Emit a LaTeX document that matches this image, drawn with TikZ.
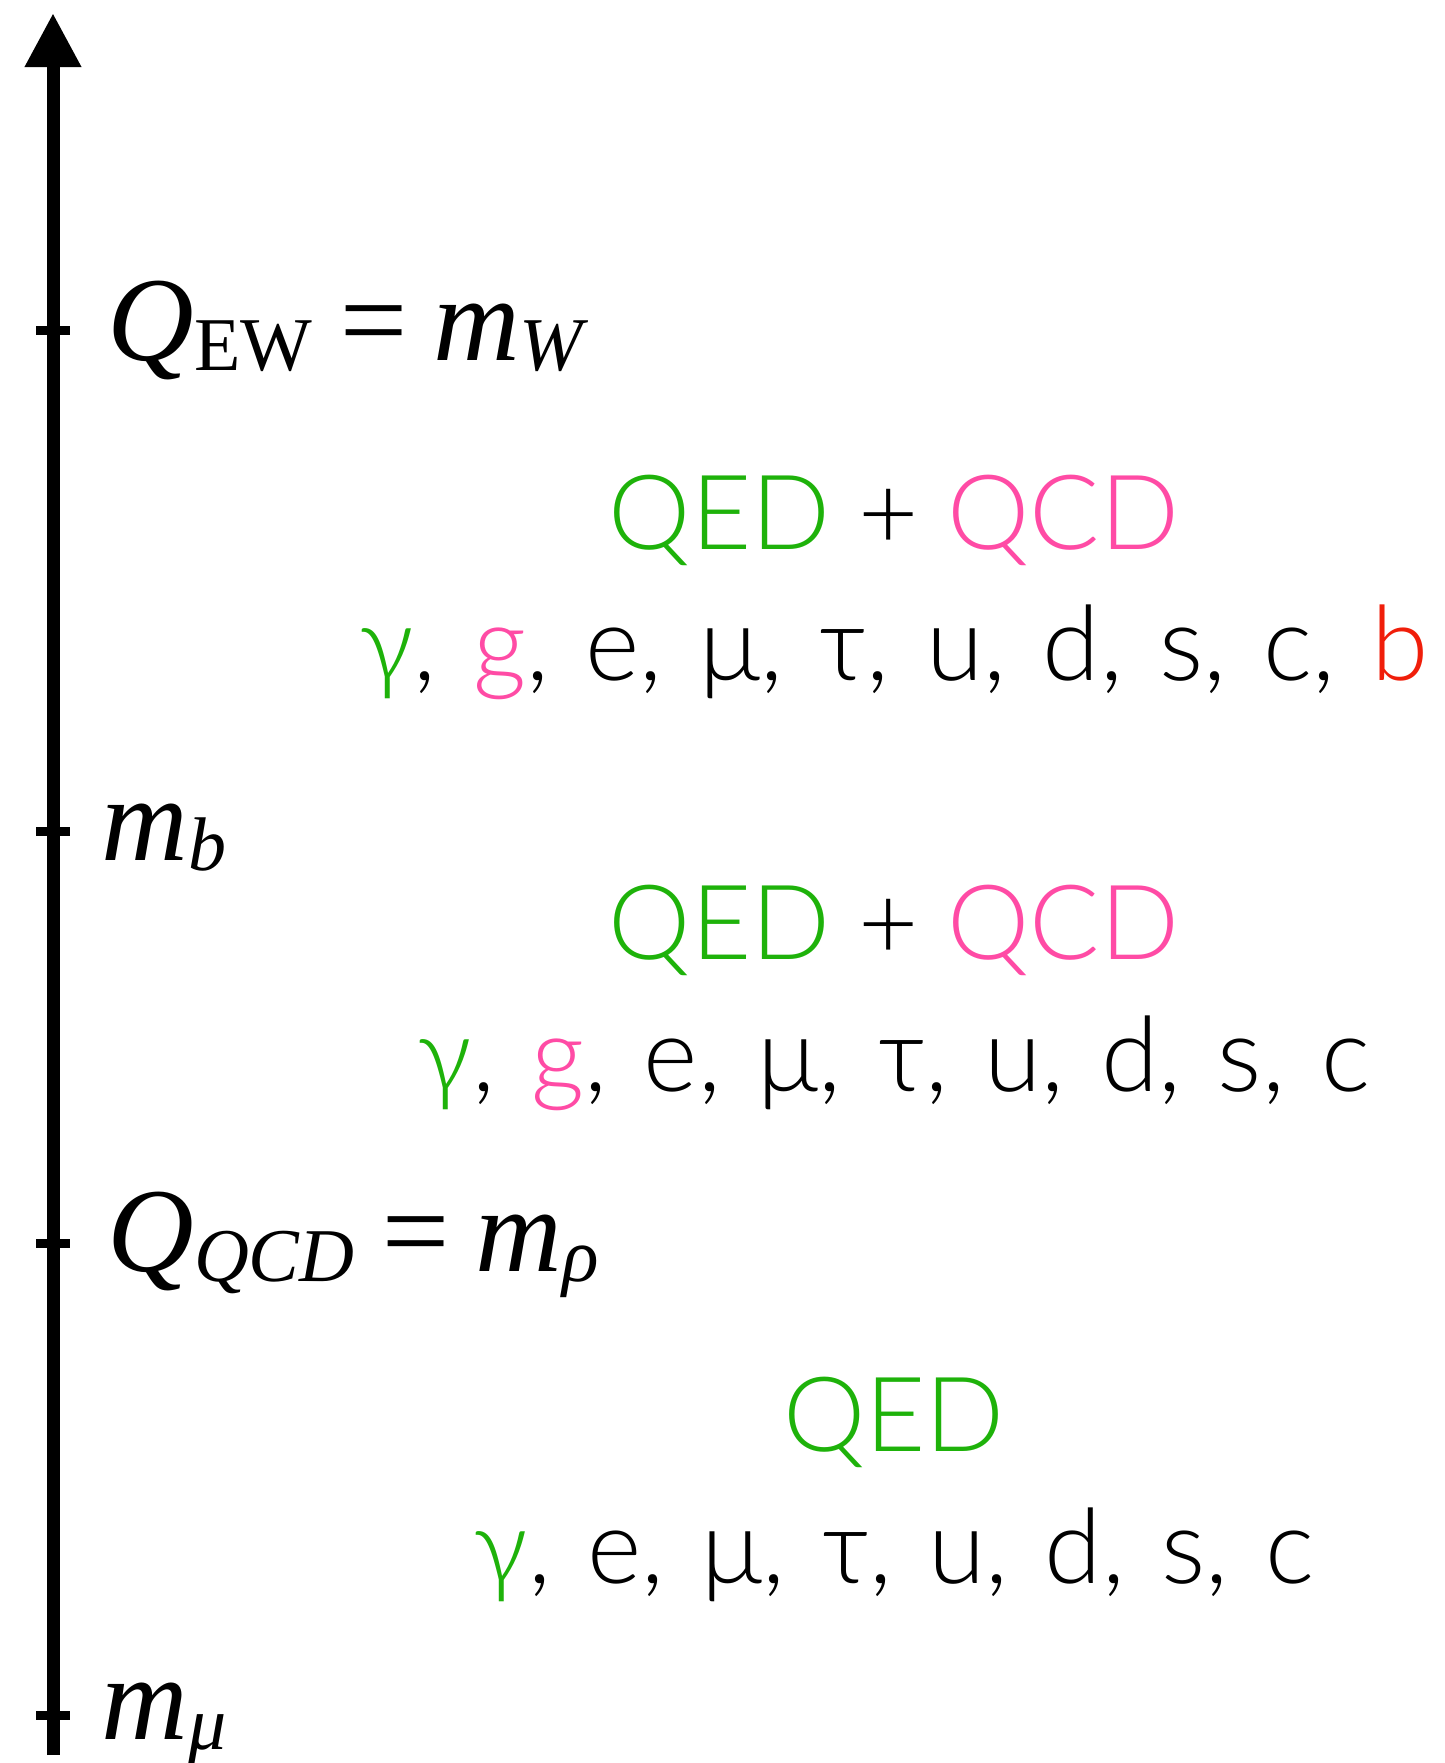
\documentclass[tikz,border=0pt]{standalone}
\usepackage{fontspec}
\usetikzlibrary{arrows.meta}
\newfontfamily\tms{Liberation Serif}
\newfontfamily\lt{Lato Light}
\definecolor{qedgreen}{RGB}{30,178,10}
\definecolor{qcdpink}{RGB}{255,75,165}
\definecolor{bred}{RGB}{240,30,10}
\newcommand{\bigfs}{\fontsize{60pt}{70pt}\selectfont}
\newcommand{\subfs}{\fontsize{38pt}{44pt}\selectfont}
\newcommand{\partfs}{\fontsize{52pt}{60pt}\selectfont}
\newcommand{\widesp}{\spaceskip=18.3pt plus 0pt minus 0pt\relax}
\newcommand{\sub}[1]{\raisebox{-5pt}{\subfs #1}}
\tikzset{
  scalelabel/.style={anchor=base west, inner sep=0pt, font=\tms\bigfs},
  titleline/.style={anchor=base, inner sep=0pt, font=\lt\partfs},
  partline/.style={anchor=base, inner sep=0pt, font=\lt\partfs},
  tickmark/.style={line width=4.5pt},
}
\begin{document}
\begin{tikzpicture}[x=0.5pt,y=-0.5pt]
\useasboundingbox (0,0) rectangle (1445,1763);
\coordinate (bot) at (53,1755);
\coordinate (top) at (53,13);
\draw[line width=6.5pt,-{Triangle[width=26.5pt,length=27pt]}] (bot) -- (top);
\foreach \y/\n in {330/tew,831/tb,1243/tqcd,1715/tmu}{
  \coordinate (\n l) at (36,\y);
  \coordinate (\n r) at (70,\y);
  \draw[tickmark] (\n l) -- (\n r);
}
\node[scalelabel] (lew) at (107,360) {\itshape Q\sub{\upshape EW}\,=\,m\sub{W}};
\node[scalelabel] (lb) at (101,860) {\itshape m\sub{b}};
\node[scalelabel] (lqcd) at (107,1271) {\itshape Q\sub{QCD}\,=\,m\sub{ρ}};
\node[scalelabel] (lmu) at (101,1739) {\itshape m\sub{μ}};

\node[titleline] (t1) at (894,549) {\textcolor{qedgreen}{QED} + \textcolor{qcdpink}{QCD}};
\node[partline] (p1) at (894,680) {\widesp\textcolor{qedgreen}{γ}, \textcolor{qcdpink}{g}, e, μ, τ, u, d, s, c, \textcolor{bred}{b}};
\node[titleline] (t2) at (894,959) {\textcolor{qedgreen}{QED} + \textcolor{qcdpink}{QCD}};
\node[partline] (p2) at (894,1091) {\widesp\textcolor{qedgreen}{γ}, \textcolor{qcdpink}{g}, e, μ, τ, u, d, s, c};
\node[titleline] (t3) at (894,1451) {\textcolor{qedgreen}{QED}};
\node[partline] (p3) at (894,1583) {\widesp\textcolor{qedgreen}{γ}, e, μ, τ, u, d, s, c};
\end{tikzpicture}
\end{document}
